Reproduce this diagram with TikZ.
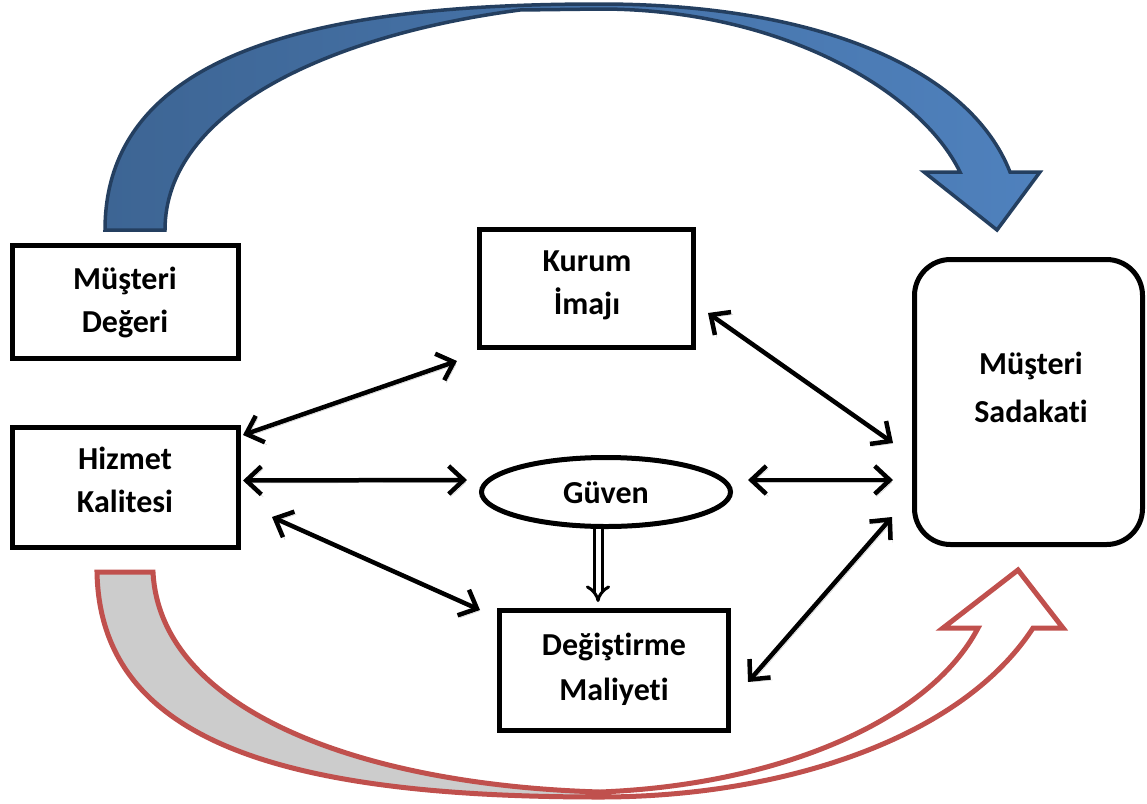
\documentclass[tikz,border=0pt]{standalone}
\usepackage{fontspec}
\setmainfont{Carlito}[Ligatures=CommonOff]
\usetikzlibrary{arrows.meta,calc,shapes.geometric}
\definecolor{bandedge}{HTML}{243F60}
\definecolor{bandleft}{HTML}{3D6594}
\definecolor{bandright}{HTML}{4F81BD}
\definecolor{redline}{HTML}{C0504D}
\definecolor{tailgray}{HTML}{CCCCCC}
\begin{document}
\begin{tikzpicture}[x=1pt,y=-1pt,
  box/.style={draw, line width=5pt, rectangle, inner sep=0pt},
  lbl/.style={font=\fontsize{32}{38}\selectfont\bfseries, inner sep=0pt, anchor=base},
  conn/.style={line width=4.5pt, line cap=round, line join=round,
    {Straight Barb[length=15pt,width=28pt]}-{Straight Barb[length=15pt,width=28pt]},
    preaction={draw=black!22, transform canvas={shift={(2pt,-2.5pt)}}}}
]
\useasboundingbox (0,0) rectangle (1147,803);

% upper curved arrow (shaded band)
\draw[left color=bandleft, right color=bandright, draw=bandedge, line width=3.5pt, line join=miter]
  (105,230) .. controls (105,40) and (350,4) .. (600,4)
  .. controls (820,4) and (970,70) .. (1010,172)
  -- (1040,172) -- (997,230) -- (924,172) -- (960,172)
  .. controls (920,90) and (780,9) .. (600,9)
  -- (520,10)
  .. controls (330,35) and (165,110) .. (165,230) -- cycle;

% lower curved arrow: grey tail, then outline
\fill[tailgray]
  (97,572) .. controls (100,740) and (280,797) .. (600,797)
  -- (600,792) .. controls (360,785) and (160,710) .. (153,572) -- cycle;
\draw[redline, line width=5pt, line join=miter]
  (97,572) .. controls (100,740) and (280,797) .. (600,797)
  .. controls (780,797) and (960,740) .. (1033,628)
  -- (1063,628) -- (1018,570) -- (943,628) -- (978,628)
  .. controls (930,720) and (780,785) .. (600,792)
  .. controls (360,785) and (160,710) .. (153,572) -- cycle;

% boxes
\node[box, minimum width=226, minimum height=113] (deger) at (125.5,302) {};
\node[box, minimum width=226, minimum height=120] (hizmet) at (125.5,487.5) {};
\node[box, minimum width=214, minimum height=118] (kurum) at (586.5,288.5) {};
\node[box, minimum width=228, minimum height=285, rounded corners=36pt] (sadakat) at (1028.5,402) {};
\node[draw, line width=5pt, ellipse, inner sep=0pt, minimum width=249, minimum height=69] (guven) at (606,492) {};
\node[box, minimum width=229, minimum height=120] (degis) at (614,670.5) {};

% labels
\node[lbl] (deger1) at (125,289) {Müşteri};
\node[lbl] (deger2) at (125,332) {Değeri};
\node[lbl] (hizmet1) at (125,469) {Hizmet};
\node[lbl] (hizmet2) at (125,512) {Kalitesi};
\node[lbl] (kurum1) at (587,271) {Kurum};
\node[lbl] (kurum2) at (587,314) {İmajı};
\node[lbl] (sadakat1) at (1031,374) {Müşteri};
\node[lbl] (sadakat2) at (1031,422) {Sadakati};
\node[lbl] (guven1) at (606,503) {Güven};
\node[lbl] (degis1) at (614,655) {Değiştirme};
\node[lbl] (degis2) at (614,700) {Maliyeti};

% connectors
\draw[conn] ($(hizmet.north east)+(2,10)$) -- ($(kurum.south west)+(-20,11)$);
\draw[conn] ($(hizmet.east)+(2,-7)$) -- ($(guven.west)+(-12,-12)$);
\draw[conn] ($(hizmet.east)+(31,29.5)$) -- ($(degis.north west)+(-17,2)$);
\draw[conn] ($(kurum.east)+(12,24.5)$) -- ($(sadakat.west)+(-19,41)$);
\draw[conn] ($(guven.east)+(15,-12)$) -- ($(sadakat.west)+(-19,78)$);
\draw[conn] ($(sadakat.west)+(-20,115)$) -- ($(degis.east)+(17,11.5)$);
\draw[double=white, double distance=5pt, line width=3pt, -{Implies}]
  ($(guven.south)+(-8,0)$) -- ($(degis.north)+(-16,-6)$);
\end{tikzpicture}
\end{document}
